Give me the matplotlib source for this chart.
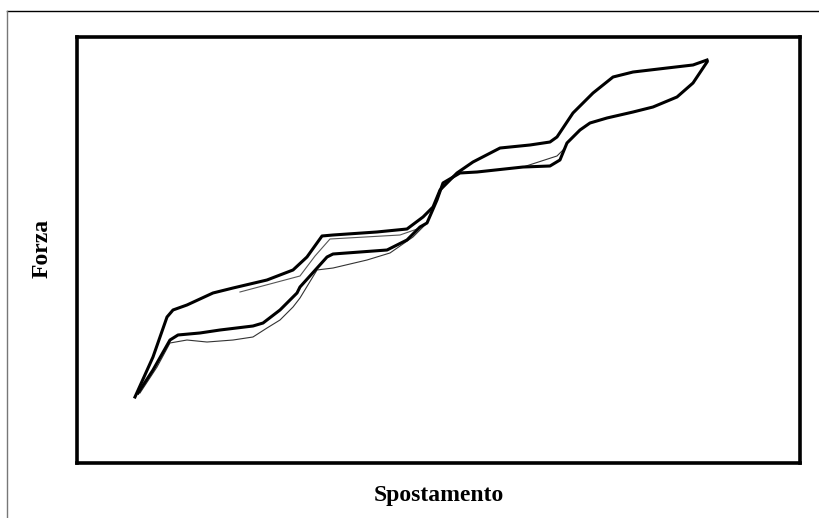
import matplotlib.pyplot as plt
from matplotlib.lines import Line2D

# upper branch (thick)
up_x = [8.02, 10.51, 12.45, 13.28, 15.21, 18.81, 21.58, 26.28, 29.88, 31.81, 33.89, 35.41, 41.49, 45.64,
        47.86, 49.24, 50.21, 51.18, 52.56, 54.77, 58.51, 62.66, 65.42, 66.39, 68.60, 71.37, 74.14, 76.90,
        81.60, 85.20, 87.14]
up_y = [15.49, 24.88, 34.27, 35.92, 37.09, 39.91, 41.08, 42.96, 45.31, 48.36, 53.29, 53.52, 54.23, 54.93,
        57.75, 60.09, 64.08, 65.73, 68.08, 70.66, 73.94, 74.65, 75.35, 76.53, 82.16, 86.85, 90.61, 91.78,
        92.72, 93.43, 94.60]

# lower branch (thick)
lo_x = [8.44, 10.51, 12.86, 13.97, 17.01, 19.78, 24.34, 25.73, 28.08, 30.43, 30.84, 34.58, 35.41, 42.88,
        45.64, 47.44, 48.41, 49.79, 50.62, 52.97, 55.33, 61.69, 65.42, 66.80, 67.77, 69.57, 70.95, 73.31,
        76.90, 79.67, 82.99, 85.20, 87.14]
lo_y = [16.43, 21.83, 28.87, 30.05, 30.52, 31.22, 32.16, 32.86, 35.92, 39.91, 41.31, 48.36, 49.06, 50.00,
        52.35, 55.40, 56.34, 61.74, 65.73, 68.08, 68.31, 69.48, 69.72, 71.13, 75.12, 78.17, 79.81, 80.99,
        82.39, 83.57, 85.92, 89.20, 94.13]

# second cycle, thin traces
lo2_x = [8.71, 11.07, 12.86, 15.21, 17.98, 21.58, 24.34, 26.28, 28.08, 29.88, 30.84, 33.20, 35.41, 40.11,
         43.29, 46.47, 48.13]
lo2_y = [16.43, 22.54, 28.17, 28.87, 28.40, 28.87, 29.58, 31.69, 33.57, 36.62, 38.73, 45.31, 45.77, 47.65,
         49.30, 53.05, 55.87]

chord_x = [61.69, 66.39, 67.50]
chord_y = [69.48, 72.07, 73.94]

up2_x = [22.54, 30.84, 32.92, 34.99, 44.67, 47.44]
up2_y = [40.14, 43.90, 48.59, 52.58, 53.52, 55.16]

fig = plt.figure(figsize=(8.2, 5.18), dpi=100)
ax = fig.add_axes([77/820, 55/518, 723/820, 426/518])

ax.plot(lo2_x, lo2_y, color='#333333', lw=0.8)
ax.plot(chord_x, chord_y, color='#333333', lw=0.8)
ax.plot(up2_x, up2_y, color='#555555', lw=0.8)
ax.plot(up_x, up_y, color='black', lw=2.2)
ax.plot(lo_x, lo_y, color='black', lw=2.2)

ax.set_xlim(0, 100)
ax.set_ylim(0, 100)
ax.set_xticks([])
ax.set_yticks([])
for s in ax.spines.values():
    s.set_linewidth(2.6)
    s.set_color('black')

font = dict(family='Liberation Serif', fontweight='bold', fontsize=17)
fig.text(438.5/820, 1 - 496/518, 'Spostamento', ha='center', va='center', **font)
fig.text(42/820, 1 - 248/518, 'Forza', ha='center', va='center', rotation=90, **font)

# outer frame, only top and left edges visible
fig.add_artist(Line2D([7/820, 1], [1 - 11/518, 1 - 11/518], transform=fig.transFigure, color='black', lw=1))
fig.add_artist(Line2D([7/820, 7/820], [0, 1 - 11/518], transform=fig.transFigure, color='#777777', lw=1))

fig.savefig('out.png', dpi=100)
